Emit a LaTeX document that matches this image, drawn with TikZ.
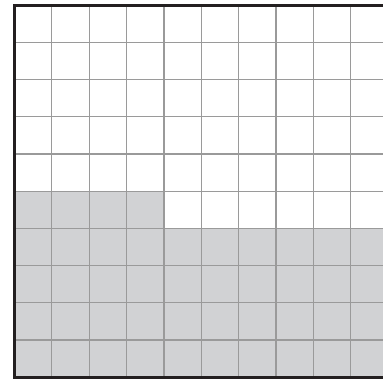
\documentclass[tikz,border=0pt]{standalone}
\definecolor{shade}{HTML}{D1D2D4}
\definecolor{gridgray}{HTML}{9A9A9A}
\definecolor{frame}{HTML}{231F20}
\tikzset{
  cellfill/.style={fill=shade, draw=none},
  gridline/.style={draw=gridgray, line width=1.2pt},
  frameline/.style={draw=frame, line width=2.8pt}
}
\begin{document}
\begin{tikzpicture}[x=1pt, y=-1pt]
\useasboundingbox (0,0) rectangle (383,379);
\clip (0,0) rectangle (383,379);
\fill[white] (0,0) rectangle (383,379);
% shaded region
\path[cellfill] (14.5,228.5) rectangle (390,377.3);
\path[cellfill] (14.5,191.3) rectangle (163.7,228.5);
% grid lines
\foreach \i in {1,...,9} {
  \draw[gridline] ({14.5+37.35*\i},5.3) -- ({14.5+37.35*\i},377.3);
  \draw[gridline] (14.5,{5.3+37.2*\i}) -- (390,{5.3+37.2*\i});
}
% frame
\draw[frameline] (390,5.3) -- (14.5,5.3) -- (14.5,377.3) -- (390,377.3);
\end{tikzpicture}
\end{document}
